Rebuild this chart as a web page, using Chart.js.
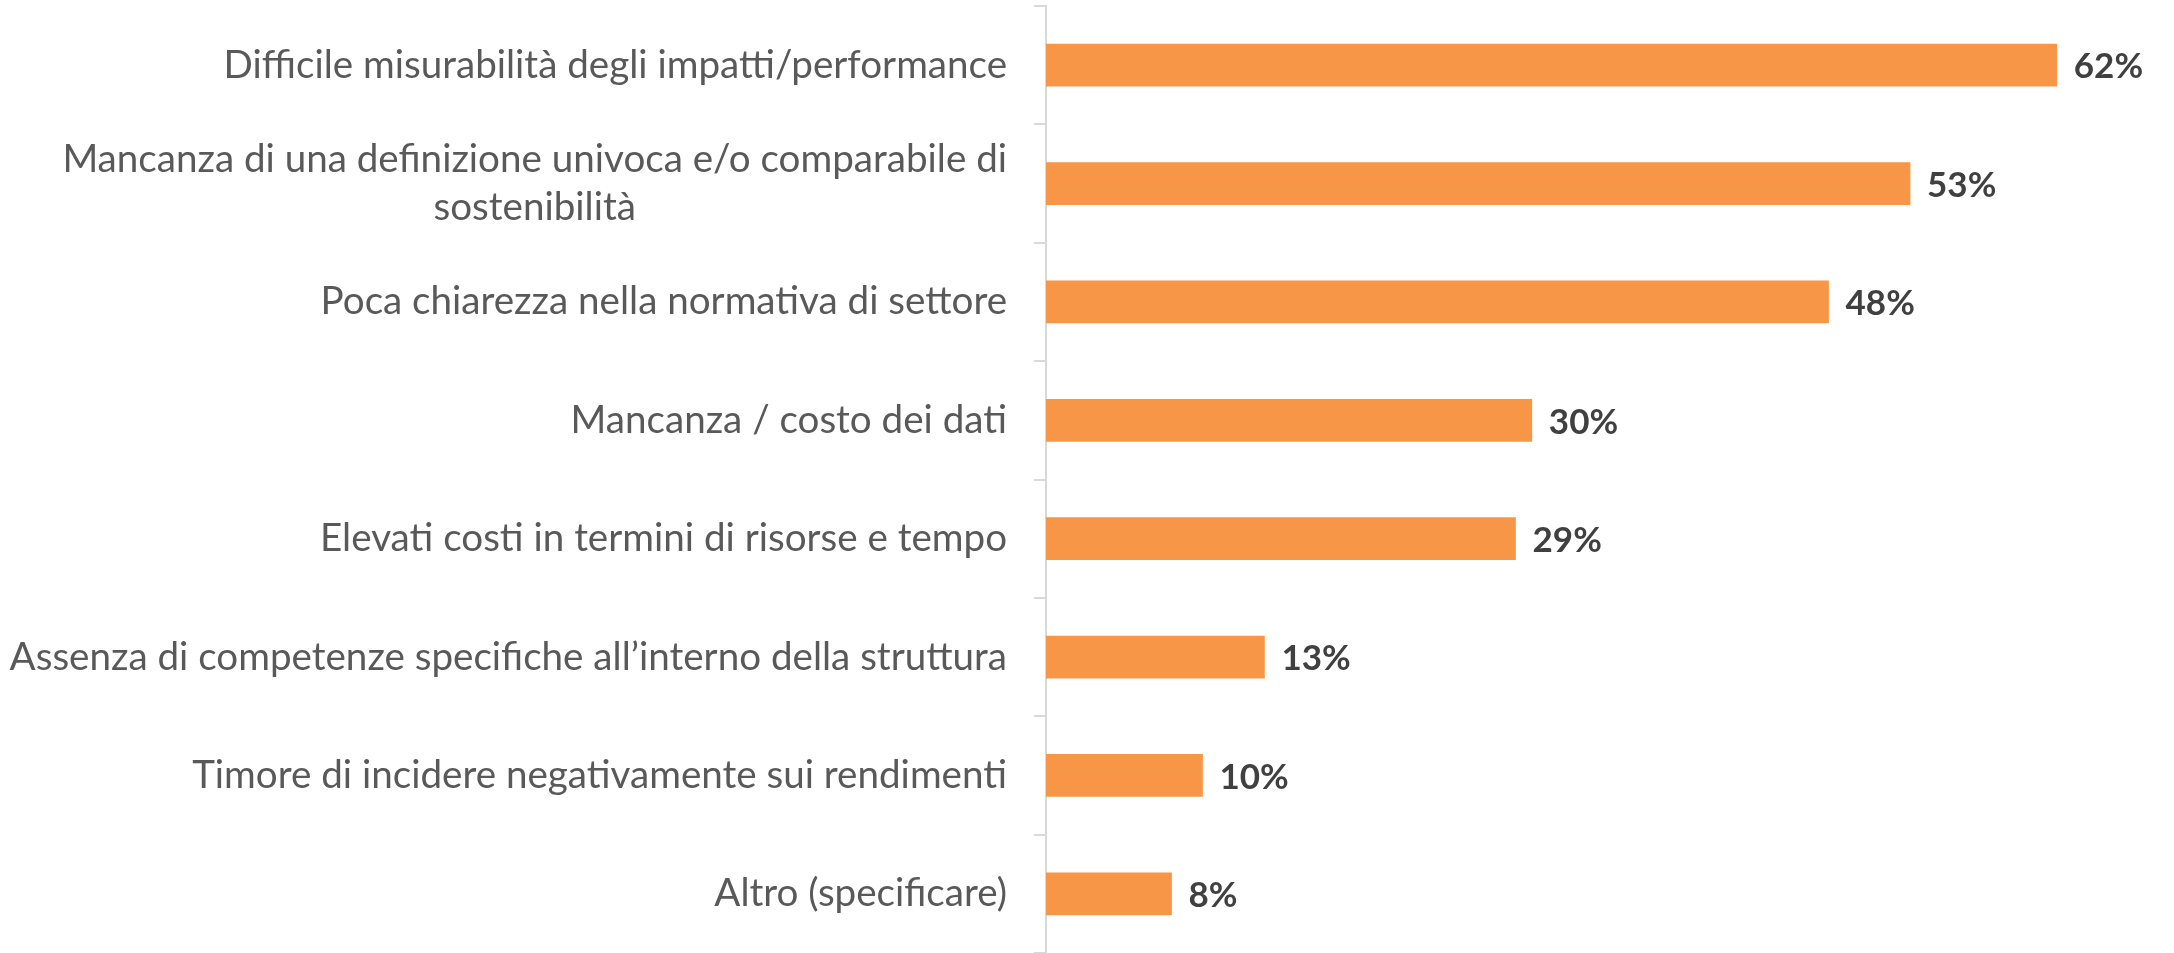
<!DOCTYPE html>
<html>
<head>
<meta charset="utf-8">
<script src="https://cdn.jsdelivr.net/npm/chart.js@4.4.1/dist/chart.umd.min.js"></script>
<style>
  html, body { margin: 0; padding: 0; background: #fff; }
  #wrap { width: 2174px; height: 953px; position: relative; }
</style>
</head>
<body>
<div id="wrap"><canvas id="chart"></canvas></div>
<script>
// categories (top to bottom); the second one wraps on two lines
const categories = [
  'Difficile misurabilità degli impatti/performance',
  ['Mancanza di una definizione univoca e/o comparabile di', 'sostenibilità'],
  'Poca chiarezza nella normativa di settore',
  'Mancanza / costo dei dati',
  'Elevati costi in termini di risorse e tempo',
  'Assenza di competenze specifiche all\u2019interno della struttura',
  'Timore di incidere negativamente sui rendimenti',
  'Altro (specificare)'
];
// share of respondents, %
const shares = [62.0, 53.0, 48.0, 29.8, 28.8, 13.4, 9.6, 7.7];

const BAR_COLOR = '#F79646';
const AXIS_COLOR = '#D9D9D9';
const CAT_FONT = '400 38.6px Lato';
const VAL_FONT = 'bold 35px Lato';

// category labels: right aligned block, lines centred within it
const categoryLabels = {
  id: 'categoryLabels',
  afterDraw(chart) {
    const ctx = chart.ctx;
    const yScale = chart.scales.y;
    const right = chart.chartArea.left - 12 - 27;
    const lineH = 48;
    ctx.save();
    ctx.font = CAT_FONT;
    ctx.fillStyle = '#595959';
    ctx.textAlign = 'center';
    ctx.textBaseline = 'middle';
    chart.data.labels.forEach((lab, i) => {
      const lines = Array.isArray(lab) ? lab : [lab];
      const w = Math.max(...lines.map(l => ctx.measureText(l).width));
      const cx = right - w / 2;
      const top = yScale.getPixelForTick(i) - (lines.length - 1) * lineH / 2;
      lines.forEach((l, k) => ctx.fillText(l, cx, top + k * lineH));
    });
    ctx.restore();
  }
};

// value labels at the end of each bar
const valueLabels = {
  id: 'valueLabels',
  afterDatasetsDraw(chart) {
    const ctx = chart.ctx;
    ctx.save();
    ctx.font = VAL_FONT;
    ctx.fillStyle = '#404040';
    ctx.textAlign = 'left';
    ctx.textBaseline = 'middle';
    chart.getDatasetMeta(0).data.forEach((bar, i) => {
      ctx.fillText(Math.round(shares[i]) + '%', bar.x + 17, bar.y + 2);
    });
    ctx.restore();
  }
};

new Chart(document.getElementById('chart'), {
  type: 'bar',
  data: {
    labels: categories,
    datasets: [{
      data: shares,
      backgroundColor: BAR_COLOR,
      borderWidth: 0,
      barThickness: 42
    }]
  },
  options: {
    indexAxis: 'y',
    responsive: true,
    maintainAspectRatio: false,
    animation: false,
    layout: { padding: { top: 6, right: 52, bottom: 0, left: 0 } },
    plugins: {
      legend: { display: false },
      tooltip: { enabled: false }
    },
    scales: {
      x: {
        display: false,
        min: 0,
        max: 66
      },
      y: {
        afterFit(scale) { scale.width = 1046; },
        grid: {
          offset: true,
          drawOnChartArea: false,
          drawTicks: true,
          tickLength: 12,
          color: AXIS_COLOR,
          lineWidth: 2
        },
        border: { color: AXIS_COLOR, width: 2 },
        ticks: { display: false }
      }
    }
  },
  plugins: [categoryLabels, valueLabels]
});
</script>
</body>
</html>
